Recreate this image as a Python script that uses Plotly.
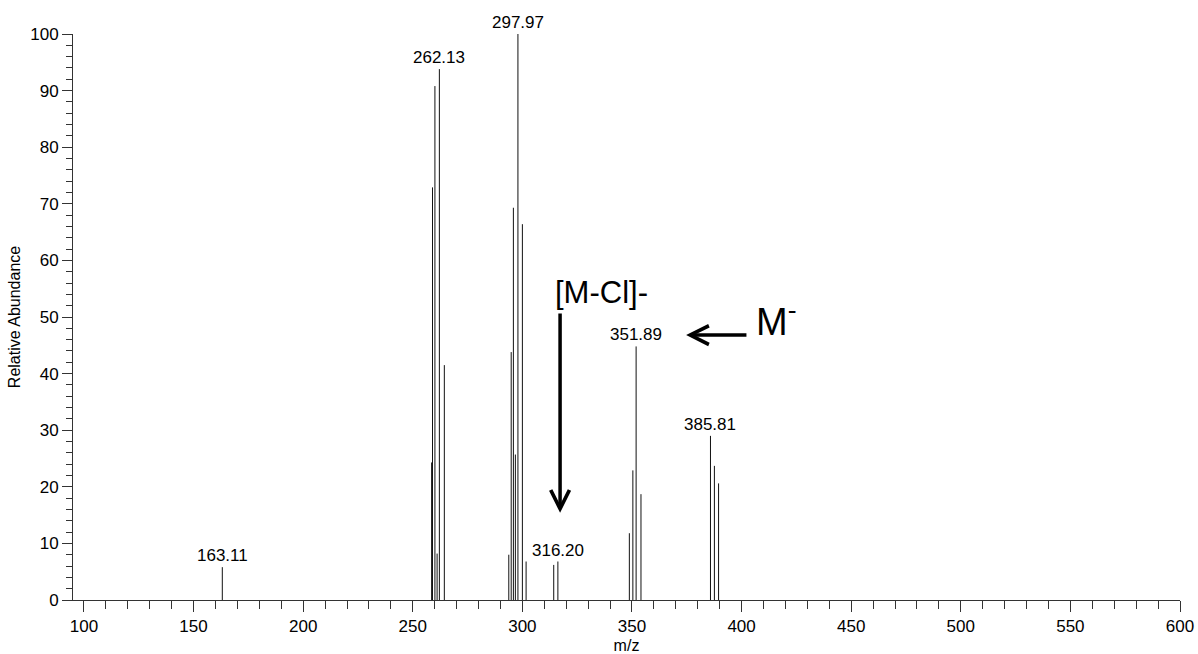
import plotly.graph_objects as go

# ---- data ----
mz = [163.11,
      258.6, 259.0, 260.1, 261.1, 262.13, 264.4,
      293.8, 294.9, 295.9, 296.8, 297.97, 300.0, 301.7,
      314.3, 316.20,
      348.8, 350.4, 351.89, 354.1,
      385.81, 387.6, 389.5]
abundance = [5.8,
             24.3, 72.9, 90.8, 8.2, 93.8, 41.5,
             8.0, 43.8, 69.3, 25.7, 100.0, 66.4, 6.8,
             6.2, 6.8,
             11.8, 22.9, 44.8, 18.7,
             29.0, 23.7, 20.6]
labelled_mz = [163.11, 262.13, 297.97, 316.20, 351.89, 385.81]

x_ticks = [100, 150, 200, 250, 300, 350, 400, 450, 500, 550, 600]
y_ticks = [0, 10, 20, 30, 40, 50, 60, 70, 80, 90, 100]

FONT = "Liberation Sans, Arial, Helvetica, sans-serif"

# stick spectrum built from the arrays
xs, ys = [], []
for m, h in zip(mz, abundance):
    xs += [m, m, None]
    ys += [0, h, None]

fig = go.Figure()
fig.add_trace(go.Scatter(x=xs, y=ys, mode="lines",
                         line=dict(color="#111111", width=1),
                         hoverinfo="skip", showlegend=False))

annotations = []
for m, h in zip(mz, abundance):
    if m in labelled_mz:
        annotations.append(dict(x=m, y=h, xref="x", yref="y", text=f"{m:.2f}",
                                showarrow=False, yanchor="bottom", yshift=0,
                                font=dict(family=FONT, size=17, color="black")))

# [M-Cl]- arrow (pointing down)
annotations.append(dict(x=317.2, y=15.4, ax=317.2, ay=50.9, xref="x", yref="y",
                        axref="x", ayref="y", showarrow=True, arrowhead=5,
                        arrowwidth=3.5, arrowsize=1.05, arrowcolor="black", text=""))
annotations.append(dict(x=336.0, y=54.4, xref="x", yref="y", text="[M-Cl]-",
                        showarrow=False, xanchor="center", yanchor="middle",
                        font=dict(family=FONT, size=31, color="black")))
# M- arrow (pointing left)
annotations.append(dict(x=374.7, y=46.8, ax=402.9, ay=46.8, xref="x", yref="y",
                        axref="x", ayref="y", showarrow=True, arrowhead=5,
                        arrowwidth=3.5, arrowsize=1.05, arrowcolor="black", text=""))
annotations.append(dict(x=405.6, y=49.7, xref="x", yref="y", text="M<sup>-</sup>",
                        showarrow=False, xanchor="left", yanchor="middle",
                        font=dict(family=FONT, size=38, color="black")))

axis_col = "#333333"
fig.update_layout(
    width=1198, height=654,
    margin=dict(l=73, r=18, t=34, b=54, autoexpand=False),
    plot_bgcolor="white", paper_bgcolor="white",
    font=dict(family=FONT, size=17, color="black"),
    annotations=annotations,
    xaxis=dict(range=[95, 600], tickmode="array", tickvals=x_ticks,
               ticktext=[str(v) for v in x_ticks], automargin=False,
               ticks="outside", ticklen=11, tickwidth=1, tickcolor=axis_col,
               showline=True, linecolor=axis_col, linewidth=1,
               showgrid=False, zeroline=False,
               tickfont=dict(family=FONT, size=17),
               minor=dict(tickmode="linear", tick0=100, dtick=10, ticks="outside",
                          ticklen=8, tickwidth=1, tickcolor=axis_col, showgrid=False),
               title=dict(text="m/z", font=dict(family=FONT, size=16), standoff=7)),
    yaxis=dict(range=[0, 100], tickmode="array", tickvals=y_ticks,
               ticktext=[str(v) for v in y_ticks], automargin=False,
               ticks="outside", ticklen=10, tickwidth=1, tickcolor=axis_col,
               showline=True, linecolor=axis_col, linewidth=1,
               showgrid=False, zeroline=False,
               tickfont=dict(family=FONT, size=17),
               minor=dict(tickmode="linear", tick0=0, dtick=2, ticks="outside",
                          ticklen=6, tickwidth=1, tickcolor=axis_col, showgrid=False),
               title=dict(text="Relative Abundance", font=dict(family=FONT, size=16),
                          standoff=5)),
)

fig.write_html("out.html", config={"displayModeBar": False},
               post_script="document.body.style.margin='0px';document.body.style.overflow='hidden';")
